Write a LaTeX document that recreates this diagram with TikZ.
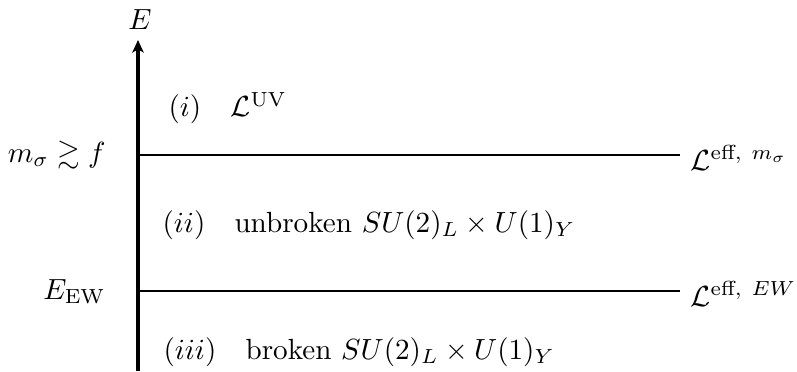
\documentclass[tikz,border=0pt]{standalone}
\usepackage{amsmath,amssymb}
\usetikzlibrary{arrows.meta}
\begin{document}
\begin{tikzpicture}[x=0.343pt,y=-0.343pt,
  lbl/.style={inner sep=0pt},
  level/.style={line width=0.45pt},
  axis/.style={line width=1.05pt,-{Stealth[length=4.3pt,width=3.9pt,inset=1.1pt]}}]
\useasboundingbox (0,0) rectangle (797,371);
\coordinate (bot) at (138,371);
\coordinate (top) at (138,40);
\draw[axis] (bot) -- (top);
\node[lbl] (E) at (140,20) {$E$};
\coordinate (l1a) at (138,155);
\coordinate (l1b) at (680,155);
\coordinate (l2a) at (138,291);
\coordinate (l2b) at (680,291);
\draw[level] (l1a) -- (l1b);
\draw[level] (l2a) -- (l2b);
\node[lbl,anchor=east] (msig) at (106,155) {$m_\sigma \gtrsim f$};
\node[lbl,anchor=east] (eew) at (106,292) {$E_{\text{EW}}$};
\node[lbl,anchor=west] (leff1) at (690,158) {$\mathcal{L}^{\text{eff},\ m_\sigma}$};
\node[lbl,anchor=west] (leff2) at (690,294) {$\mathcal{L}^{\text{eff},\ EW}$};
\node[lbl,anchor=west] (r1) at (168,108) {$(i)\quad \mathcal{L}^{\text{UV}}$};
\node[lbl,anchor=west] (r2) at (162,225) {$(ii)\quad \text{unbroken } SU(2)_L\times U(1)_Y$};
\node[lbl,anchor=west] (r3) at (163,352) {$(iii)\quad \text{broken } SU(2)_L\times U(1)_Y$};
\end{tikzpicture}
\end{document}
